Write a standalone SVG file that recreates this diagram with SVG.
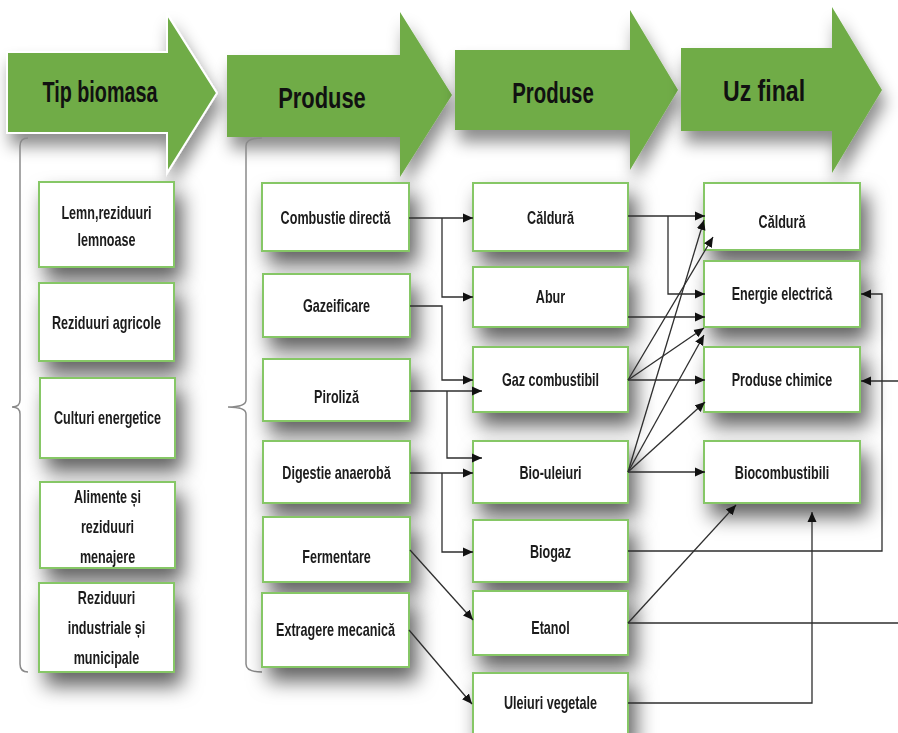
<svg xmlns="http://www.w3.org/2000/svg" width="898" height="733" viewBox="0 0 898 733">
<defs>
<filter id="sh" x="-30%" y="-30%" width="170%" height="200%">
<feDropShadow dx="7" dy="13" stdDeviation="10" flood-color="#000" flood-opacity="0.62"/>
</filter>
<filter id="shh" x="-20%" y="-30%" width="150%" height="180%">
<feDropShadow dx="4" dy="12" stdDeviation="8" flood-color="#000" flood-opacity="0.45"/>
</filter>
<marker id="ah" viewBox="0 0 10 10" refX="10" refY="5" markerWidth="10" markerHeight="10" markerUnits="userSpaceOnUse" orient="auto">
<path d="M0,0.5 L10,5 L0,9.5 z" fill="#111"/>
</marker>
</defs>
<style>
.hd{fill:#6fac47;filter:url(#shh)}
.ht{font-family:"Liberation Sans",Arial,sans-serif;font-weight:bold;font-size:30px;fill:#111;text-anchor:middle}
.bx{fill:#fff;stroke:#86c766;stroke-width:2}
.nd{filter:url(#sh)}
.t{font-family:"Liberation Sans",Arial,sans-serif;font-weight:bold;font-size:18px;fill:#1a1a1a;text-anchor:middle}
.br{fill:none;stroke:#8a8a8a;stroke-width:1.5}
.c{fill:none;stroke:#2e2e2e;stroke-width:1.3}
.a{marker-end:url(#ah)}
</style>
<rect width="898" height="733" fill="#fff"/>

<g id="header">
<g id="h1"><polygon class="hd" points="7,52 167,52 167,14 217,93 167,173 167,133 7,133" stroke="#fff" stroke-width="2"/><text class="ht" transform="translate(100,102) scale(0.66,1)">Tip biomasa</text></g>
<g id="h2"><polygon class="hd" points="227,55 400,55 400,12 452,95 400,177 400,137 227,137"/><text class="ht" transform="translate(322,108) scale(0.73,1)">Produse</text></g>
<g id="h3"><polygon class="hd" points="455,50 630,50 630,10 678,90 630,170 630,130 455,130"/><text class="ht" transform="translate(553,103) scale(0.68,1)">Produse</text></g>
<g id="h4"><polygon class="hd" points="681,48 832,48 832,7 882,90 832,173 832,131 681,131"/><text class="ht" transform="translate(764,101) scale(0.77,1)">Uz final</text></g>
</g>

<g id="brackets">
<path class="br" d="M28,138 Q20,138 20,146 V400 Q20,407 12,407 Q20,407 20,414 V664 Q20,672 28,672"/>
<path class="br" d="M262,138 Q246,138 246,146 V400 Q246,407 228,407 Q246,407 246,414 V664 Q246,672 262,672"/>
</g>

<g id="col1">
<g id="n-lemn" class="nd"><rect class="bx" x="39" y="182" width="135" height="85"/><text class="t" transform="translate(106.5,219) scale(0.7,1)">Lemn,reziduuri</text><text class="t" transform="translate(106.5,246) scale(0.7,1)">lemnoase</text></g>
<g id="n-agricole" class="nd"><rect class="bx" x="39" y="283" width="135" height="78"/><text class="t" transform="translate(106.5,329) scale(0.7,1)">Reziduuri agricole</text></g>
<g id="n-culturi" class="nd"><rect class="bx" x="40" y="378" width="135" height="80"/><text class="t" transform="translate(107.5,424) scale(0.7,1)">Culturi energetice</text></g>
<g id="n-alimente" class="nd"><rect class="bx" x="40" y="482" width="135" height="86"/><text class="t" transform="translate(107.5,503) scale(0.7,1)">Alimente și</text><text class="t" transform="translate(107.5,533) scale(0.7,1)">reziduuri</text><text class="t" transform="translate(107.5,563) scale(0.7,1)">menajere</text></g>
<g id="n-industriale" class="nd"><rect class="bx" x="39" y="583" width="135" height="89"/><text class="t" transform="translate(106.5,604) scale(0.7,1)">Reziduuri</text><text class="t" transform="translate(106.5,634) scale(0.7,1)">industriale și</text><text class="t" transform="translate(106.5,664) scale(0.7,1)">municipale</text></g>
</g>

<g id="col2">
<g id="n-combustie" class="nd"><rect class="bx" x="262" y="183" width="147" height="68"/><text class="t" transform="translate(335.5,224) scale(0.7,1)">Combustie directă</text></g>
<g id="n-gazeificare" class="nd"><rect class="bx" x="263" y="274" width="147" height="63"/><text class="t" transform="translate(336.5,312) scale(0.7,1)">Gazeificare</text></g>
<g id="n-piroliza" class="nd"><rect class="bx" x="263" y="359" width="147" height="62"/><text class="t" transform="translate(336.5,403) scale(0.7,1)">Piroliză</text></g>
<g id="n-digestie" class="nd"><rect class="bx" x="263" y="441" width="147" height="62"/><text class="t" transform="translate(336.5,479) scale(0.7,1)">Digestie anaerobă</text></g>
<g id="n-fermentare" class="nd"><rect class="bx" x="263" y="517" width="147" height="65"/><text class="t" transform="translate(336.5,563) scale(0.7,1)">Fermentare</text></g>
<g id="n-extragere" class="nd"><rect class="bx" x="262" y="593" width="147" height="74"/><text class="t" transform="translate(335.5,636) scale(0.7,1)">Extragere mecanică</text></g>
</g>

<g id="col3">
<g id="n-caldura1" class="nd"><rect class="bx" x="473" y="183" width="155" height="68"/><text class="t" transform="translate(550.5,224) scale(0.7,1)">Căldură</text></g>
<g id="n-abur" class="nd"><rect class="bx" x="473" y="267" width="155" height="60"/><text class="t" transform="translate(550.5,303) scale(0.7,1)">Abur</text></g>
<g id="n-gaz" class="nd"><rect class="bx" x="473" y="347" width="155" height="65"/><text class="t" transform="translate(550.5,386) scale(0.7,1)">Gaz combustibil</text></g>
<g id="n-bioulei" class="nd"><rect class="bx" x="473" y="441" width="155" height="62"/><text class="t" transform="translate(550.5,479) scale(0.7,1)">Bio-uleiuri</text></g>
<g id="n-biogaz" class="nd"><rect class="bx" x="473" y="520" width="155" height="62"/><text class="t" transform="translate(550.5,558) scale(0.7,1)">Biogaz</text></g>
<g id="n-etanol" class="nd"><rect class="bx" x="473" y="591" width="155" height="64"/><text class="t" transform="translate(550.5,634) scale(0.7,1)">Etanol</text></g>
<g id="n-uleiuri" class="nd"><rect class="bx" x="473" y="673" width="155" height="64"/><text class="t" transform="translate(550.5,709) scale(0.7,1)">Uleiuri vegetale</text></g>
</g>

<g id="col4">
<g id="n-caldura2" class="nd"><rect class="bx" x="704" y="183" width="156" height="67"/><text class="t" transform="translate(782,228) scale(0.7,1)">Căldură</text></g>
<g id="n-energie" class="nd"><rect class="bx" x="704" y="261" width="156" height="66"/><text class="t" transform="translate(782,300) scale(0.7,1)">Energie electrică</text></g>
<g id="n-chimice" class="nd"><rect class="bx" x="704" y="347" width="156" height="65"/><text class="t" transform="translate(782,386) scale(0.7,1)">Produse chimice</text></g>
<g id="n-biocomb" class="nd"><rect class="bx" x="704" y="441" width="156" height="62"/><text class="t" transform="translate(782,479) scale(0.7,1)">Biocombustibili</text></g>
</g>

<g id="connectors">
<path class="c a" d="M409,218 H473"/>
<path class="c a" d="M442,218 V297 H473"/>
<path class="c a" d="M410,306 H442 V380 H473"/>
<path class="c a" d="M410,391 H482"/>
<path class="c a" d="M447,391 V458 H482"/>
<path class="c a" d="M410,473 H473"/>
<path class="c a" d="M442,473 V552 H473"/>
<path class="c a" d="M410,550 L473,620"/>
<path class="c a" d="M409,630 L472,704"/>
<path class="c a" d="M628,216 H705"/>
<path class="c a" d="M668,216 V294 H705"/>
<path class="c a" d="M628,317 H705"/>
<path class="c a" d="M628,380 H705"/>
<path class="c a" d="M628,380 L713,237"/>
<path class="c a" d="M628,380 L704,328"/>
<path class="c a" d="M628,472 L704,220"/>
<path class="c a" d="M628,472 L704,335"/>
<path class="c a" d="M628,472 L705,402"/>
<path class="c a" d="M628,472 H705"/>
<path class="c a" d="M628,551 H882 V294 H861"/>
<path class="c a" d="M898,381 H861"/>
<path class="c" d="M628,623 H898"/>
<path class="c a" d="M628,623 L736,505"/>
<path class="c a" d="M628,703 H812 V512"/>
</g>
</svg>
